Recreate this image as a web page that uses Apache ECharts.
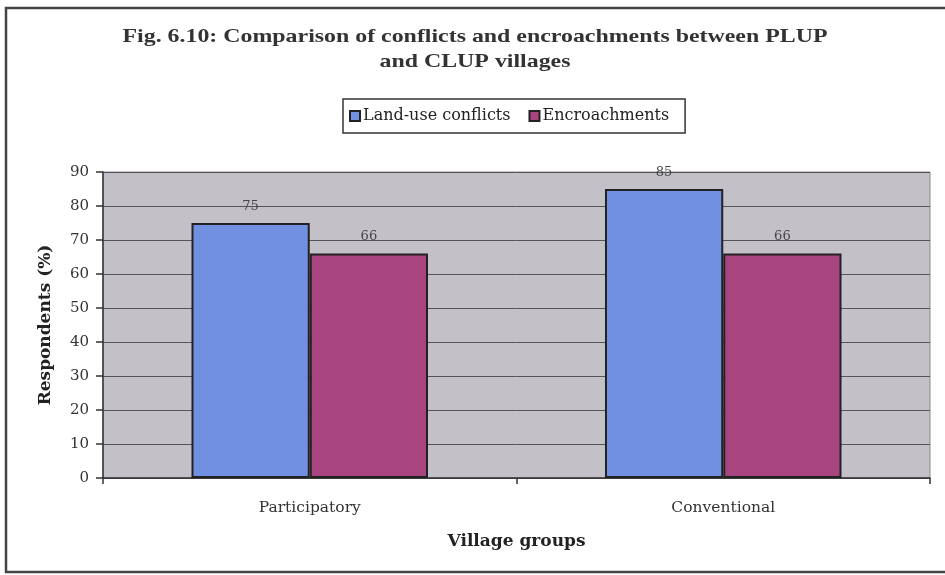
<!DOCTYPE html>
<html>
<head>
<meta charset="utf-8">
<script src="https://cdn.jsdelivr.net/npm/echarts@6/dist/echarts.min.js"></script>
<style>
  html, body { margin: 0; padding: 0; background: #ffffff; }
  #chart { width: 945px; height: 575px; }
</style>
</head>
<body>
<div id="chart"></div>
<script>
// Village groups on the x axis
const categories = ['Participatory', 'Conventional'];
// Share of respondents (%) reporting each issue
const landUseConflicts = [75, 85];
const encroachments = [66, 66];
// Y axis scale
const yMin = 0, yMax = 90, yStep = 10;

const titleLines = [
  'Fig. 6.10: Comparison of conflicts and encroachments between PLUP',
  'and CLUP villages'
];

const wideSerif = '"DejaVu Serif", "Liberation Serif", serif';

// The heading is set in a bold Times face, stretched horizontally to a wide measure
const titleFont = 'bold 19px "Liberation Serif"';
const measureCtx = document.createElement('canvas').getContext('2d');
measureCtx.font = titleFont;
const titleStretch = 705 / measureCtx.measureText(titleLines[0]).width;

const chart = echarts.init(document.getElementById('chart'), null, { renderer: 'canvas' });

const labelStyle = {
  show: true,
  position: 'top',
  distance: 10,
  color: '#444',
  fontFamily: wideSerif,
  fontSize: 13
};

chart.setOption({
  backgroundColor: '#ffffff',
  animation: false,
  legend: {
    left: 343,
    top: 99,
    orient: 'horizontal',
    icon: 'rect',
    itemWidth: 10,
    itemHeight: 10,
    itemGap: 18,
    padding: [9, 16, 9, 6],
    backgroundColor: '#ffffff',
    borderColor: '#333',
    borderWidth: 1.5,
    textStyle: { fontFamily: wideSerif, fontSize: 16, color: '#222', padding: [0, 0, 0, -2] },
    data: ['Land-use conflicts', 'Encroachments']
  },
  grid: {
    left: 103,
    right: 15,
    top: 172,
    bottom: 97,
    show: true,
    backgroundColor: '#c4c0c8',
    borderColor: '#8a8690',
    borderWidth: 1
  },
  xAxis: {
    type: 'category',
    data: categories,
    name: 'Village groups',
    nameLocation: 'middle',
    nameGap: 55,
    nameTextStyle: { fontFamily: wideSerif, fontWeight: 'bold', fontSize: 17, color: '#222' },
    axisLine: { lineStyle: { color: '#333', width: 1.5 } },
    axisTick: { show: true, alignWithLabel: false, length: 6, lineStyle: { color: '#333', width: 1.5 } },
    axisLabel: { margin: 22, fontFamily: wideSerif, fontSize: 15.5, color: '#333' }
  },
  yAxis: {
    type: 'value',
    min: yMin,
    max: yMax,
    interval: yStep,
    name: 'Respondents (%)',
    nameLocation: 'middle',
    nameGap: 49,
    nameTextStyle: { fontFamily: wideSerif, fontWeight: 'bold', fontSize: 17, color: '#222' },
    axisLine: { show: true, lineStyle: { color: '#333', width: 1.5 } },
    axisTick: { show: true, length: 7, lineStyle: { color: '#333', width: 1.5 } },
    axisLabel: { margin: 14, fontFamily: wideSerif, fontSize: 15, color: '#333' },
    splitLine: { show: true, lineStyle: { color: '#56535a', width: 1 } }
  },
  series: [
    {
      name: 'Land-use conflicts',
      type: 'bar',
      data: landUseConflicts,
      barWidth: '28.6%',
      barGap: '0%',
      itemStyle: { color: '#7190e2', borderColor: '#222', borderWidth: 2 },
      label: labelStyle
    },
    {
      name: 'Encroachments',
      type: 'bar',
      data: encroachments,
      barWidth: '28.6%',
      barGap: '0%',
      itemStyle: { color: '#a8447e', borderColor: '#222', borderWidth: 2 },
      label: labelStyle
    }
  ],
  graphic: [
    {
      type: 'rect',
      silent: true,
      shape: { x: 6, y: 8, width: 960, height: 564 },
      style: { fill: 'none', stroke: '#444', lineWidth: 2.5 }
    },
    {
      type: 'text',
      silent: true,
      x: 475,
      y: 37,
      scaleX: titleStretch,
      style: {
        text: titleLines[0],
        font: titleFont,
        fill: '#333',
        align: 'center',
        verticalAlign: 'middle'
      }
    },
    {
      type: 'text',
      silent: true,
      x: 475,
      y: 62,
      scaleX: titleStretch,
      style: {
        text: titleLines[1],
        font: titleFont,
        fill: '#333',
        align: 'center',
        verticalAlign: 'middle'
      }
    }
  ]
});
</script>
</body>
</html>
